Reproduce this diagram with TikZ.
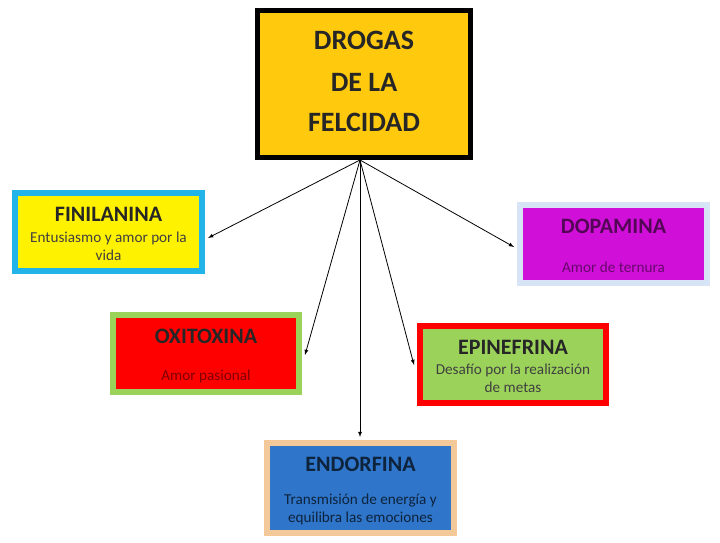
\documentclass[tikz,border=0pt]{standalone}
\usepackage{fontspec}
\setmainfont{Carlito}
\begin{document}
\begin{tikzpicture}[x=1pt,y=1pt,
 box/.style={draw,line width=6pt,inner sep=0pt},
 ttl/.style={font=\fontsize{22}{22}\selectfont\bfseries,text=black!85},
 big/.style={font=\fontsize{28}{28}\selectfont\bfseries,text=black!85},
 dsc/.style={font=\fontsize{15.2}{18}\selectfont,align=center},
 arr/.style={-latex,line width=0.8pt}]
\useasboundingbox (0,0) rectangle (720,542);
\definecolor{gold}{HTML}{FFC90E}
\definecolor{cyanb}{HTML}{22B4E8}
\definecolor{grb}{HTML}{9BD35A}
\definecolor{lbl}{HTML}{D6E4F6}
\definecolor{mag}{HTML}{D010D8}
\definecolor{peach}{HTML}{F4C99A}
\definecolor{blu}{HTML}{2F75C9}
\node[box,line width=5pt,fill=gold,minimum width=213pt,minimum height=147pt] (t) at (364,458) {};
\node[big] (t1) at (364,502) {DROGAS};
\node[big] (t2) at (364,460) {DE LA};
\node[big] (t3) at (364,420) {FELCIDAD};
\node[box,draw=cyanb,fill=yellow,minimum width=187pt,minimum height=78pt] (fin) at (108.5,310) {};
\node[ttl] (fin1) at (108.5,328) {FINILANINA};
\node[dsc,text=black!75] (fin2) at (108.5,296) {Entusiasmo y amor por la\\vida};
\node[box,draw=grb,fill=red,minimum width=186pt,minimum height=77pt] (oxi) at (206,188.5) {};
\node[ttl] (oxi1) at (206,206) {OXITOXINA};
\node[dsc,text=red!50!black] (oxi2) at (206,166) {Amor pasional};
\node[box,draw=lbl,fill=mag,minimum width=187pt,minimum height=78pt] (dop) at (613.5,298) {};
\node[ttl,text=mag!40!black] (dop1) at (613.5,316) {DOPAMINA};
\node[dsc,text=mag!50!black] (dop2) at (613.5,275) {Amor de ternura};
\node[box,draw=red,fill=grb,minimum width=186pt,minimum height=77pt] (epi) at (513,177.5) {};
\node[ttl] (epi1) at (513,195) {EPINEFRINA};
\node[dsc,text=black!75] (epi2) at (513,164) {Desafío por la realización\\de metas};
\node[box,draw=peach,fill=blu,minimum width=187pt,minimum height=90pt] (endo) at (360.5,54) {};
\node[ttl,text=blu!30!black] (endo1) at (360.5,78) {ENDORFINA};
\node[dsc,text=blu!30!black] (endo2) at (360.5,33) {Transmisión de energía y\\equilibra las emociones};
\coordinate (s) at (360,382);
\draw[arr] (s) -- ([xshift=3pt]fin.east|-0,304);
\draw[arr] (s) -- ([xshift=3pt]oxi.east|-0,187);
\draw[arr] (s) -- ([yshift=3pt]endo.north-|360,0);
\draw[arr] (s) -- ([xshift=-3pt]epi.west|-0,177);
\draw[arr] (s) -- ([xshift=-3pt]dop.west|-0,295);
\end{tikzpicture}
\end{document}
